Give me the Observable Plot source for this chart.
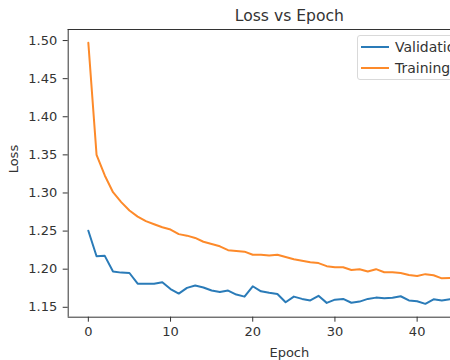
<!DOCTYPE html>
<html><head><meta charset="utf-8">
<script src="https://cdn.jsdelivr.net/npm/d3@7"></script>
<script src="https://cdn.jsdelivr.net/npm/@observablehq/plot@0.6"></script>
<style>
html,body{margin:0;padding:0;background:#fff;overflow:hidden;width:450px;height:360px}
#wrap{position:relative;width:450px;height:360px;font-family:"DejaVu Sans",sans-serif;overflow:hidden}
#chart svg{display:block}
.legend{position:absolute;left:357px;top:35px;width:130px;height:43px;border:1px solid #d9d9d9;border-radius:3px;background:rgba(255,255,255,0.8);font-size:14px;color:#333}
.legend .item{position:absolute;left:3px;height:20px;display:flex;align-items:center;white-space:nowrap}
.legend .sw{display:inline-block;width:28px;height:2px;margin-right:6px}
</style></head>
<body><div id="wrap"><div id="chart"></div><div class="legend" id="legend"></div></div>
<script>
const epochs = [0,1,2,3,4,5,6,7,8,9,10,11,12,13,14,15,16,17,18,19,20,21,22,23,24,25,26,27,28,29,30,31,32,33,34,35,36,37,38,39,40,41,42,43,44];
const validation = [1.2505,1.217,1.2175,1.197,1.1955,1.195,1.181,1.181,1.181,1.183,1.174,1.168,1.1755,1.1785,1.176,1.172,1.170,1.172,1.1667,1.164,1.1776,1.171,1.169,1.1675,1.1566,1.164,1.161,1.159,1.165,1.1558,1.160,1.161,1.156,1.1575,1.161,1.1627,1.162,1.1625,1.1645,1.159,1.158,1.1545,1.1605,1.159,1.1605];
const training = [1.497,1.350,1.323,1.301,1.288,1.277,1.269,1.263,1.259,1.255,1.252,1.246,1.244,1.241,1.236,1.233,1.230,1.225,1.224,1.223,1.219,1.219,1.218,1.219,1.216,1.213,1.211,1.209,1.208,1.204,1.2025,1.2025,1.199,1.200,1.197,1.200,1.196,1.196,1.195,1.1925,1.191,1.1935,1.192,1.188,1.1885];
const seriesNames = ["Validation","Training"];
const seriesColors = ["#2a7bb8","#fd8a2a"];
const xTicks = [0,10,20,30,40];
const yTicks = [1.15,1.20,1.25,1.30,1.35,1.40,1.45,1.50];
const xDomain = [-2.45, 44.06];
const yDomain = [1.137, 1.5145];
const title = "Loss vs Epoch";
const xLabel = "Epoch";
const yLabel = "Loss";

const valData = epochs.map((e,i)=>({epoch:e, loss:validation[i]}));
const trainData = epochs.map((e,i)=>({epoch:e, loss:training[i]}));
const ink = "#333";

const chart = Plot.plot({
  width: 450, height: 360,
  marginLeft: 67.7, marginRight: 0, marginTop: 29, marginBottom: 43.3,
  style: {fontFamily: "DejaVu Sans, sans-serif", fontSize: "13px", color: ink, background: "#fff", maxWidth: "none"},
  x: {domain: xDomain},
  y: {domain: yDomain},
  marks: [
    Plot.line(valData, {x:"epoch", y:"loss", stroke: seriesColors[0], strokeWidth: 2, clip: true}),
    Plot.line(trainData, {x:"epoch", y:"loss", stroke: seriesColors[1], strokeWidth: 2, clip: true}),
    Plot.ruleY([yDomain[1]], {stroke: ink, strokeWidth: 1}),
    Plot.ruleY([yDomain[0]], {stroke: ink, strokeWidth: 1}),
    Plot.ruleX([xDomain[0]], {stroke: ink, strokeWidth: 1}),
    Plot.axisX({ticks: xTicks, tickSize: 5, tickPadding: 5, label: null, fontSize: 13, stroke: ink}),
    Plot.axisY({ticks: yTicks, tickSize: 5, tickPadding: 6, tickFormat: d3.format(".2f"), label: null, fontSize: 13, stroke: ink}),
    Plot.text([xLabel], {text: d=>d, frameAnchor: "bottom", dx: 30, dy: 35.5, lineAnchor: "middle", fontSize: 13, fill: ink}),
    Plot.text([yLabel], {text: d=>d, frameAnchor: "left", dx: -54, rotate: -90, lineAnchor: "middle", fontSize: 13, fill: ink}),
    Plot.text([title], {text: d=>d, frameAnchor: "top", dx: 30, dy: -14, lineAnchor: "middle", fontSize: 15.6, fill: ink})
  ]
});
document.getElementById("chart").appendChild(chart);

const leg = document.getElementById("legend");
seriesNames.forEach((name,i)=>{
  const it = document.createElement("div");
  it.className = "item";
  it.style.top = (i===0 ? 1 : 21.7) + "px";
  const sw = document.createElement("span");
  sw.className = "sw"; sw.style.background = seriesColors[i];
  it.appendChild(sw);
  it.appendChild(document.createTextNode(name));
  leg.appendChild(it);
});
</script></body></html>
